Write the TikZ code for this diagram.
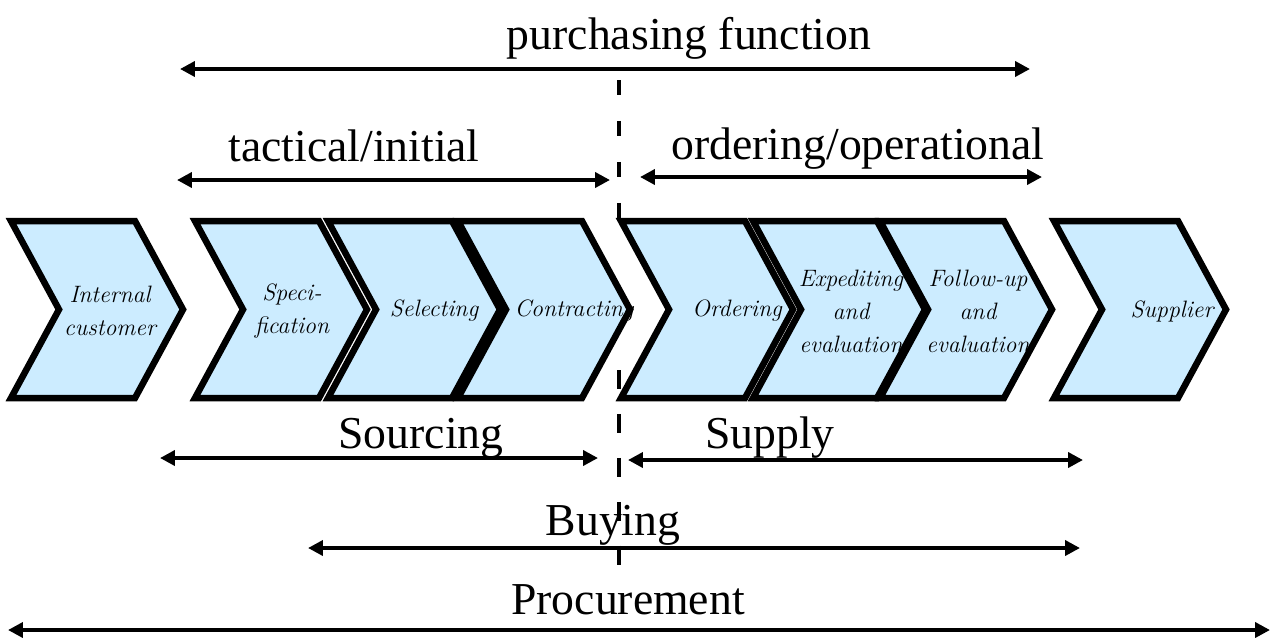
\documentclass[tikz,border=0pt]{standalone}
\usepackage{tikz}
\usepackage{xcolor}
\usepackage{fontspec}
\usetikzlibrary{arrows.meta}

\newfontfamily\labelfont{Liberation Serif}
\definecolor{chevblue}{RGB}{204,236,255}

\begin{document}
\begin{tikzpicture}[x=0.02cm,y=-0.02cm,
        chev/.style={draw=black,line width=3.7pt,fill=chevblue,line join=miter},
        arr/.style={line width=2.8pt,{Triangle[length=8.5pt,width=8.5pt]}-{Triangle[length=8.5pt,width=8.5pt]}},
        divider/.style={line width=2.3pt},
        bigtxt/.style={anchor=base,inner sep=0pt,font=\labelfont\fontsize{26}{30}\selectfont},
        steptxt/.style={align=center,inner sep=0pt,font=\fontsize{13.5}{18.8}\selectfont\itshape}]
        \useasboundingbox (0,0) rectangle (1277,637);

        % dashed divider (behind the chevrons)
        \coordinate (divA) at (619,80);
        \coordinate (divB) at (619,218);
        \coordinate (divC) at (619,370);
        \coordinate (divD) at (619,568);
        \draw[divider,dash pattern=on 8.5pt off 14.8pt] (divA) -- (divB);
        \draw[divider,dash pattern=on 10.8pt off 14.2pt] (divC) -- (divD);

        % process chevrons
        \foreach \x/\tx/\nm/\txt in {11/110/cust/{Internal\\customer},
                195/292/spec/{Speci-\\fication},
                328/434/select/{Selecting},
                458/574/contract/{Contracting},
                621/737/order/{Ordering},
                753/851/expedite/{Expediting\\and\\evaluation},
                880/978/follow/{Follow-up\\and\\evaluation},
                1054/1172/supplier/{Supplier}}{
            \draw[chev] (\x,221) -- ++(124,0) -- ++(48,88.5) -- ++(-48,88.5)
                -- ++(-124,0) -- ++(48,-88.5) -- cycle;
            \node[steptxt] (\nm) at (\tx,311) {\txt};
        }

        % labels
        \node[bigtxt] (purch) at (689,49) {purchasing function};
        \node[bigtxt] (tact) at (354,161) {tactical/initial};
        \node[bigtxt] (oper) at (858,159) {ordering/operational};
        \node[bigtxt] (sourcing) at (421,448) {Sourcing};
        \node[bigtxt] (supply) at (770,448) {Supply};
        \node[bigtxt] (buying) at (613,535) {Buying};
        \node[bigtxt] (procure) at (628,614) {Procurement};

        % spans
        \coordinate (purch-l) at (180,69);   \coordinate (purch-r) at (1030,69);
        \coordinate (tact-l) at (177,180);   \coordinate (tact-r) at (610,180);
        \coordinate (oper-l) at (640,177);   \coordinate (oper-r) at (1042,177);
        \coordinate (sourcing-l) at (160,458); \coordinate (sourcing-r) at (598,458);
        \coordinate (supply-l) at (628,460); \coordinate (supply-r) at (1083,460);
        \coordinate (buying-l) at (308,548); \coordinate (buying-r) at (1080,548);
        \coordinate (procure-l) at (8,630);  \coordinate (procure-r) at (1270,630);
        \foreach \s in {purch,tact,oper,sourcing,supply,buying,procure}
            \draw[arr] (\s-l) -- (\s-r);
    \end{tikzpicture}
\end{document}
